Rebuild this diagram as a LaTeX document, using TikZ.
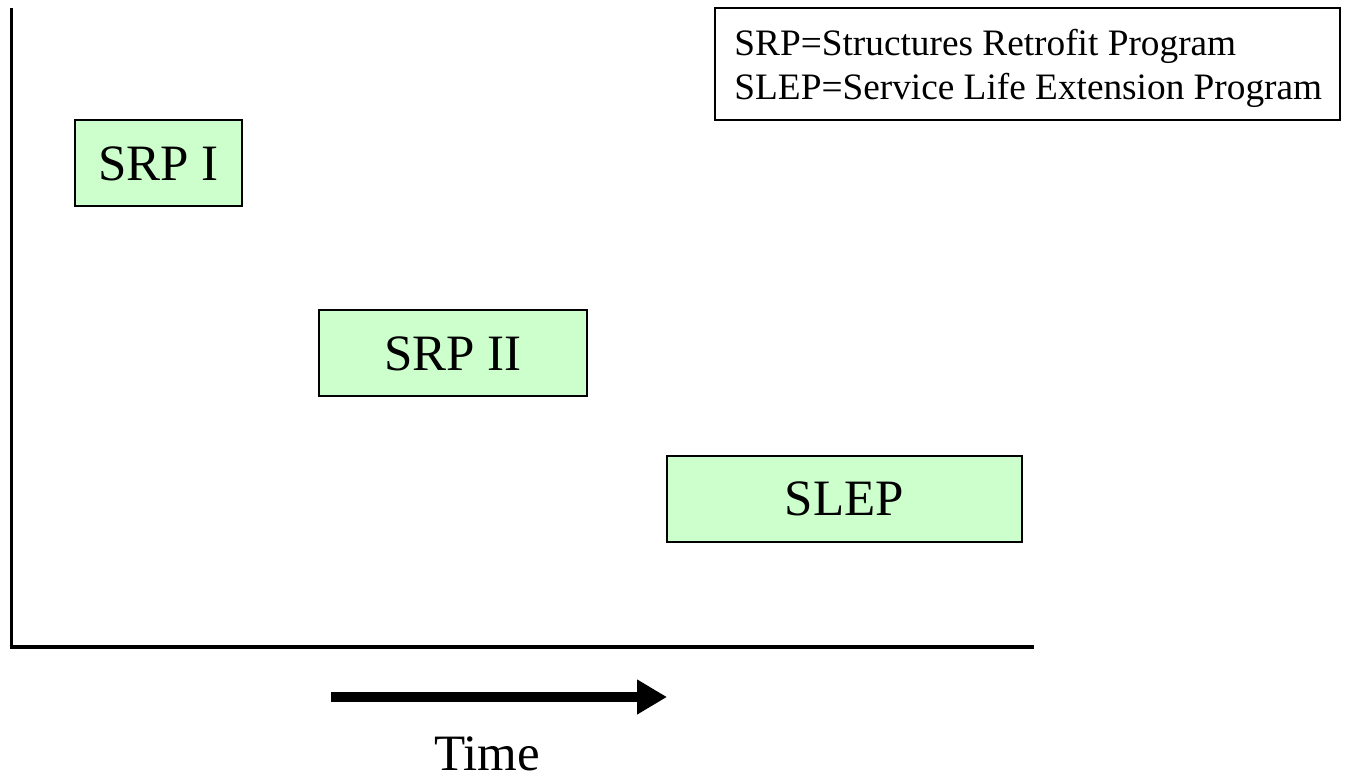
\documentclass[tikz,border=0pt]{standalone}
\usepackage{fontspec}
\setmainfont{Liberation Serif}
\usetikzlibrary{arrows.meta}
\definecolor{boxgreen}{HTML}{CCFFCC}
\tikzset{
  phase/.style={draw=black, line width=2pt, fill=boxgreen, inner sep=0pt,
    minimum height=86pt, font=\fontsize{51}{60}\selectfont, text height=34pt, text depth=0pt},
  legendbox/.style={draw=black, line width=1.5pt, fill=white, inner sep=0pt,
    minimum width=625pt, minimum height=112pt},
  legendtext/.style={inner sep=0pt, align=left, anchor=west,
    font=\fontsize{37.3}{44}\selectfont},
  axis/.style={draw=black},
  timearrow/.style={line width=10.5pt, -{Triangle[length=30pt,width=33pt]}},
  label/.style={font=\fontsize{51}{60}\selectfont, inner sep=0pt}
}
\begin{document}
\begin{tikzpicture}[x=1pt,y=-1pt]
\useasboundingbox (0,0) rectangle (1346,779);
% axes
\coordinate (ytop) at (11,8);
\coordinate (orig) at (11,647);
\coordinate (xend) at (1034,647);
\draw[axis, line width=3pt] (ytop) -- (11,649);
\draw[axis, line width=4pt] (9.5,647) -- (xend);
% phases
\node[phase, minimum width=167pt] (srp1) at (158.5,163) {SRP I};
\node[phase, minimum width=268pt] (srp2) at (453,353) {SRP II};
\node[phase, minimum width=355pt] (slep) at (844.5,498.5) {SLEP};
% legend
\node[legendbox] (legend) at (1027.5,64) {};
\node[legendtext] (legendtxt) at ([xshift=20pt,yshift=-4pt]legend.west) {SRP=Structures Retrofit Program\\SLEP=Service Life Extension Program};
% time arrow
\coordinate (tstart) at (331,697);
\coordinate (tend) at (667,697);
\draw[timearrow] (tstart) -- (tend);
\node[label] (time) at (487,754) {Time};
\end{tikzpicture}
\end{document}
